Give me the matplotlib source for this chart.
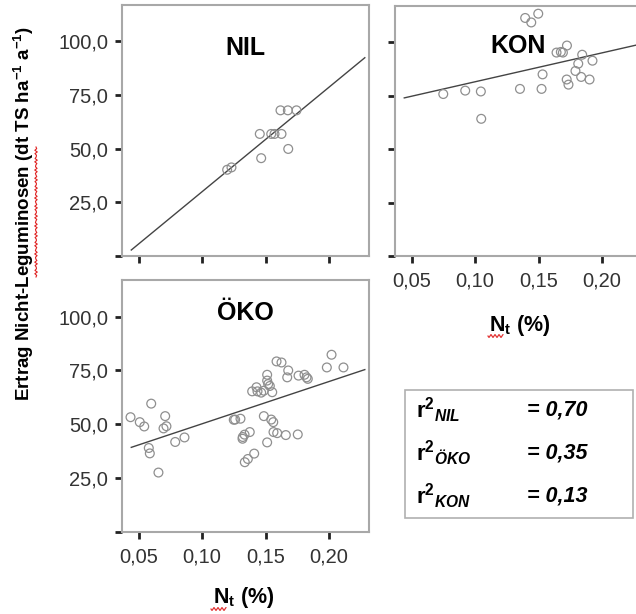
import numpy as np
import matplotlib.pyplot as plt
from matplotlib.patches import Rectangle
from matplotlib.lines import Line2D

plt.rcParams['font.family'] = ['Liberation Sans', 'DejaVu Sans']
plt.rcParams['mathtext.fontset'] = 'custom'
plt.rcParams['mathtext.rm'] = 'Liberation Sans'
plt.rcParams['mathtext.it'] = 'Liberation Sans:italic'
plt.rcParams['mathtext.bf'] = 'Liberation Sans:bold'
plt.rcParams['mathtext.bfit'] = 'Liberation Sans:bold:italic'

# --- data ---
nil_x = [0.1198, 0.1232, 0.1455, 0.1466, 0.1545, 0.1571, 0.1626,
         0.1618, 0.1676, 0.1744, 0.1679]
nil_y = [40.2, 41.3, 56.9, 45.6, 56.9, 56.9, 56.9, 67.9, 67.9, 67.9, 49.9]

kon_x = [0.1395, 0.1443, 0.1498, 0.1642, 0.1676, 0.1692, 0.1724, 0.1844,
         0.1925, 0.1813, 0.1791, 0.1836, 0.1902, 0.1722, 0.1736, 0.1532,
         0.1524, 0.1354, 0.1046, 0.0923, 0.0750, 0.1049]
kon_y = [111.4, 109.3, 113.4, 95.2, 95.5, 95.2, 98.5, 94.2, 91.4, 90.0,
         86.6, 83.8, 82.6, 82.6, 80.2, 85.0, 78.2, 78.2, 77.0, 77.4, 75.8, 64.2]

oko_x = [0.0437, 0.0510, 0.0545, 0.0600, 0.0581, 0.0589, 0.0657, 0.0710,
         0.0720, 0.0697, 0.0789, 0.0862, 0.1261, 0.1303, 0.1250, 0.1321,
         0.1319, 0.1335, 0.1376, 0.1337, 0.1361, 0.1411, 0.1395, 0.1429,
         0.1437, 0.1466, 0.1487, 0.1513, 0.1513, 0.1521, 0.1534, 0.1553,
         0.1487, 0.1545, 0.1561, 0.1563, 0.1592, 0.1660, 0.1754, 0.1513,
         0.1587, 0.1626, 0.1679, 0.1671, 0.1760, 0.1807, 0.1823, 0.1833,
         0.1983, 0.2020, 0.2114]
oko_y = [53.3, 51.0, 49.0, 59.6, 39.0, 36.5, 27.6, 53.8, 49.1, 48.1,
         41.8, 43.9, 52.2, 52.6, 52.1, 44.1, 43.3, 45.2, 46.4, 32.4,
         33.9, 36.4, 65.3, 67.2, 65.3, 64.7, 65.6, 73.0, 70.3, 68.7,
         67.8, 64.9, 53.8, 52.2, 51.0, 46.4, 45.9, 45.0, 45.3, 41.6,
         79.2, 78.7, 75.0, 71.8, 72.6, 73.0, 71.8, 71.1, 76.4, 82.3, 76.4]

# regression lines (intercept, slope) and drawn x-range
fit_nil = (-18.8, 487.4)
fit_kon = (68.0, 135.3)
fit_oko = (30.6, 196.3)
fit_range = (0.0443, 0.2282)

r2_labels = ['NIL', 'ÖKO', 'KON']
r2_values = ['0,70', '0,35', '0,13']

xticks = [0.05, 0.10, 0.15, 0.20]
xticklabels = ['0,05', '0,10', '0,15', '0,20']
yticks = [0, 25, 50, 75, 100]
yticklabels = ['', '25,0', '50,0', '75,0', '100,0']

W, H = 636, 614
fig = plt.figure(figsize=(W / 100, H / 100), dpi=100)


def px_axes(left, top, right, bottom):
    return fig.add_axes([left / W, 1 - bottom / H, (right - left) / W, (bottom - top) / H])


def style(ax, xlab, ylab):
    ax.set_xlim(0.037, 0.2315)
    ax.set_ylim(0, 117)
    for s in ax.spines.values():
        s.set_color('#a8a8a8')
        s.set_linewidth(1.5)
    ax.set_xticks(xticks)
    ax.set_yticks(yticks)
    ax.set_xticklabels(xticklabels if xlab else [])
    ax.set_yticklabels(yticklabels if ylab else [])
    ax.tick_params(direction='out', length=5, width=2, color='#222222',
                   labelsize=14.5, labelcolor='#333333')
    ax.tick_params(axis='x', pad=6)
    ax.tick_params(axis='y', pad=5)


def panel(ax, x, y, fit, title, tx, ty):
    ax.scatter(x, y, s=40, facecolors='none', edgecolors='#8f8f8f', linewidths=0.9, zorder=3)
    xs = np.array(fit_range)
    ax.plot(xs, fit[0] + fit[1] * xs, color='#444444', lw=1.0, zorder=2)
    ax.text(tx, ty, title, transform=ax.transAxes, ha='center', va='center',
            fontsize=18, fontweight='bold')


def squiggle(x0, x1, y0, vertical=False):
    # red spell-check underline of the word processor
    t = np.linspace(0, 1, 80)
    a = x0 + (x1 - x0) * t
    b = y0 + 1.3 * np.sin((a - x0) / 4.0 * 2 * np.pi)
    if vertical:
        xx, yy = b, a
    else:
        xx, yy = a, b
    fig.add_artist(Line2D(xx / W, 1 - yy / H, transform=fig.transFigure,
                          color='#e02020', lw=0.8))


ax1 = px_axes(122, 5, 369, 256)
ax2 = px_axes(395, 6, 642, 256)
ax3 = px_axes(122, 280, 369, 532)

style(ax1, False, True)
style(ax2, True, False)
style(ax3, True, True)

panel(ax1, nil_x, nil_y, fit_nil, 'NIL', 0.5, 0.83)
panel(ax2, kon_x, kon_y, fit_kon, 'KON', 0.5, 0.84)
panel(ax3, oko_x, oko_y, fit_oko, 'ÖKO', 0.5, 0.87)

nt = r'$\mathbf{N}_{\mathbf{t}}$ (%)'
fig.text(520 / W, 1 - 325 / H, nt, ha='center', va='center', fontsize=15.5, fontweight='bold')
fig.text(244 / W, 1 - 598 / H, nt, ha='center', va='center', fontsize=15.5, fontweight='bold')
squiggle(488, 503, 336)
squiggle(211, 226, 609)

fig.text(24 / W, 1 - 213 / H,
         r'Ertrag Nicht-Leguminosen (dt TS ha$^{\mathbf{-1}}$ a$^{\mathbf{-1}}$)',
         rotation=90, ha='center', va='center', fontsize=13.5, fontweight='bold')
squiggle(147, 277, 36, vertical=True)

# r^2 box
fig.patches.append(Rectangle((405 / W, 1 - 518 / H), 228 / W, 128 / H,
                             transform=fig.transFigure, fill=False,
                             edgecolor='#b0b0b0', lw=1.2))
rows_y = [410, 453, 496]
for lab, val, ry in zip(r2_labels, r2_values, rows_y):
    fig.text(416 / W, 1 - ry / H, r'$\mathbf{r}^{\mathbf{2}}{}_{\mathbfit{%s}}$' % lab,
             ha='left', va='center', fontsize=16)
    fig.text(527 / W, 1 - ry / H, '= ' + val, ha='left', va='center',
             fontsize=15.5, fontweight='bold', style='italic')

fig.savefig('out.png', dpi=100)
